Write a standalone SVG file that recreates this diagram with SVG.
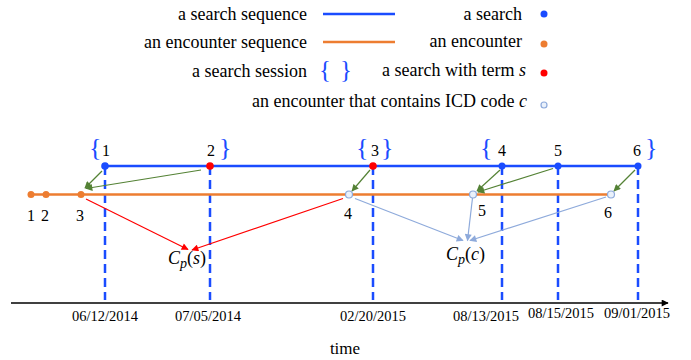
<svg xmlns="http://www.w3.org/2000/svg" width="691" height="360" viewBox="0 0 691 360" font-family="'Liberation Serif', 'Times New Roman', serif">
<style>
text{font-family:"Liberation Serif","Times New Roman",serif;fill:#000}
.lg{font-size:18px}
.num{font-size:16px}
.date{font-size:14.5px;text-anchor:middle}
.br{font-size:26px;fill:#1a4cff}
.blue{stroke:#1a4cff;stroke-width:2.5;fill:none}
.orange{stroke:#ed7d31;stroke-width:2.5;fill:none}
.dash{stroke:#1a4cff;stroke-width:2.5;stroke-dasharray:9 5;fill:none}
.g{stroke:#548235;stroke-width:1.2;fill:none;marker-end:url(#ag)}
.r{stroke:#ff0000;stroke-width:1.2;fill:none;marker-end:url(#ar)}
.lb{stroke:#8eaadb;stroke-width:1.2;fill:none;marker-end:url(#alb)}
.db{fill:#1a4cff}
.dr{fill:#ff0000}
.do{fill:#ed7d31}
.dh{fill:#eaf1fb;stroke:#8eaadb;stroke-width:1.2}
</style>
<defs>
<marker id="ag" viewBox="0 0 10 10" refX="9" refY="5" markerWidth="9" markerHeight="7" markerUnits="userSpaceOnUse" orient="auto"><path d="M0,0 L10,5 L0,10 z" fill="#548235"/></marker>
<marker id="ar" viewBox="0 0 10 10" refX="9" refY="5" markerWidth="9" markerHeight="7" markerUnits="userSpaceOnUse" orient="auto"><path d="M0,0 L10,5 L0,10 z" fill="#ff0000"/></marker>
<marker id="alb" viewBox="0 0 10 10" refX="9" refY="5" markerWidth="9" markerHeight="7" markerUnits="userSpaceOnUse" orient="auto"><path d="M0,0 L10,5 L0,10 z" fill="#8eaadb"/></marker>
<marker id="ak" viewBox="0 0 10 10" refX="9" refY="5" markerWidth="9" markerHeight="7" markerUnits="userSpaceOnUse" orient="auto"><path d="M0,0 L10,5 L0,10 z" fill="#000"/></marker>
</defs>

<g id="legend">
<text class="lg" x="307" y="20" text-anchor="end">a search sequence</text>
<line class="blue" x1="323" y1="14" x2="395" y2="14"/>
<text class="lg" x="522" y="20" text-anchor="end">a search</text>
<circle class="db" cx="544" cy="14" r="3.5"/>
<text class="lg" x="307" y="48" text-anchor="end">an encounter sequence</text>
<line class="orange" x1="323" y1="42" x2="395" y2="42"/>
<text class="lg" x="522" y="47" text-anchor="end">an encounter</text>
<circle class="do" cx="544" cy="44" r="3.5"/>
<text class="lg" x="307" y="77" text-anchor="end">a search session</text>
<text class="br" x="319" y="78" style="font-size:25px">{</text>
<text class="br" x="340" y="78" style="font-size:25px">}</text>
<text class="lg" x="526" y="76" text-anchor="end">a search with term <tspan font-style="italic">s</tspan></text>
<circle class="dr" cx="544" cy="73" r="3.5"/>
<text class="lg" x="527" y="107" text-anchor="end">an encounter that contains ICD code <tspan font-style="italic">c</tspan></text>
<circle class="dh" cx="544" cy="105" r="3"/>
</g>

<g id="axis">
<line x1="11" y1="303" x2="668" y2="303" stroke="#000" stroke-width="1.3" marker-end="url(#ak)"/>
<text class="date" x="105" y="321">06/12/2014</text>
<text class="date" x="208" y="321">07/05/2014</text>
<text class="date" x="373" y="321">02/20/2015</text>
<text class="date" x="486" y="321">08/13/2015</text>
<text class="date" x="561" y="318">08/15/2015</text>
<text class="date" x="637" y="318">09/01/2015</text>
<text x="345" y="354" text-anchor="middle" font-size="17">time</text>
</g>

<g id="dashes">
<line class="dash" x1="105" y1="166" x2="105" y2="300"/>
<line class="dash" x1="210" y1="166" x2="210" y2="300"/>
<line class="dash" x1="373" y1="166" x2="373" y2="300"/>
<line class="dash" x1="502" y1="166" x2="502" y2="300"/>
<line class="dash" x1="558" y1="166" x2="558" y2="300"/>
<line class="dash" x1="638" y1="166" x2="638" y2="300"/>
</g>

<g id="search-sequence">
<line class="blue" x1="105" y1="166" x2="638" y2="166"/>
</g>
<g id="encounter-sequence">
<line class="orange" x1="31" y1="194.5" x2="611" y2="194.5"/>
</g>

<g id="connectors">
<line class="g" x1="102" y1="171" x2="85" y2="188"/>
<line class="g" x1="201" y1="170" x2="86" y2="188.5"/>
<line class="g" x1="370" y1="170" x2="352" y2="191"/>
<line class="g" x1="500" y1="170" x2="477" y2="191"/>
<line class="g" x1="553" y1="168.5" x2="478" y2="192"/>
<line class="g" x1="635" y1="170" x2="614" y2="191"/>
<line class="r" x1="86" y1="199" x2="188" y2="249.5"/>
<line class="r" x1="343" y1="198.5" x2="192" y2="250"/>
<line class="lb" x1="355" y1="198.5" x2="463" y2="240.5"/>
<line class="lb" x1="472.5" y1="198" x2="467.5" y2="240.5"/>
<line class="lb" x1="606" y1="197" x2="470" y2="240.5"/>
</g>

<g id="search-1"><text class="br" x="89" y="156">{</text><circle class="db" cx="105" cy="166" r="3.8"/><text class="num" x="106" y="156" text-anchor="middle">1</text></g>
<g id="search-2"><circle class="dr" cx="210" cy="166" r="3.8"/><text class="num" x="211" y="156" text-anchor="middle">2</text><text class="br" x="219" y="156">}</text></g>
<g id="search-3"><text class="br" x="356" y="156">{</text><circle class="dr" cx="373" cy="166" r="3.8"/><text class="num" x="375" y="156" text-anchor="middle">3</text><text class="br" x="381" y="156">}</text></g>
<g id="search-4"><text class="br" x="480" y="156">{</text><circle class="db" cx="502" cy="166" r="3.5"/><text class="num" x="502" y="156" text-anchor="middle">4</text></g>
<g id="search-5"><circle class="db" cx="558" cy="166" r="3.5"/><text class="num" x="558" y="156" text-anchor="middle">5</text></g>
<g id="search-6"><circle class="db" cx="638" cy="166" r="3.5"/><text class="num" x="637" y="156" text-anchor="middle">6</text><text class="br" x="645" y="156">}</text></g>

<g id="encounter-1"><circle class="do" cx="31" cy="194.5" r="3.5"/><text class="num" x="31" y="221" text-anchor="middle">1</text></g>
<g id="encounter-2"><circle class="do" cx="46" cy="194.5" r="3.5"/><text class="num" x="45" y="221" text-anchor="middle">2</text></g>
<g id="encounter-3"><circle class="do" cx="81" cy="194.5" r="3.5"/><text class="num" x="80" y="221" text-anchor="middle">3</text></g>
<g id="encounter-4"><circle class="dh" cx="349" cy="194.5" r="3.5"/><text class="num" x="348" y="219" text-anchor="middle">4</text></g>
<g id="encounter-5"><circle class="dh" cx="473" cy="194.5" r="3.5"/><text class="num" x="482" y="216" text-anchor="middle">5</text></g>
<g id="encounter-6"><circle class="dh" cx="611" cy="194.5" r="3.5"/><text class="num" x="608" y="218" text-anchor="middle">6</text></g>

<g id="cp-s"><text x="168" y="264" font-size="18"><tspan font-style="italic">C</tspan><tspan font-style="italic" font-size="14" dy="4">p</tspan><tspan dy="-4">(</tspan><tspan font-style="italic">s</tspan>)</text></g>
<g id="cp-c"><text x="446" y="260" font-size="18"><tspan font-style="italic">C</tspan><tspan font-style="italic" font-size="14" dy="4">p</tspan><tspan dy="-4">(</tspan><tspan font-style="italic">c</tspan>)</text></g>
</svg>
